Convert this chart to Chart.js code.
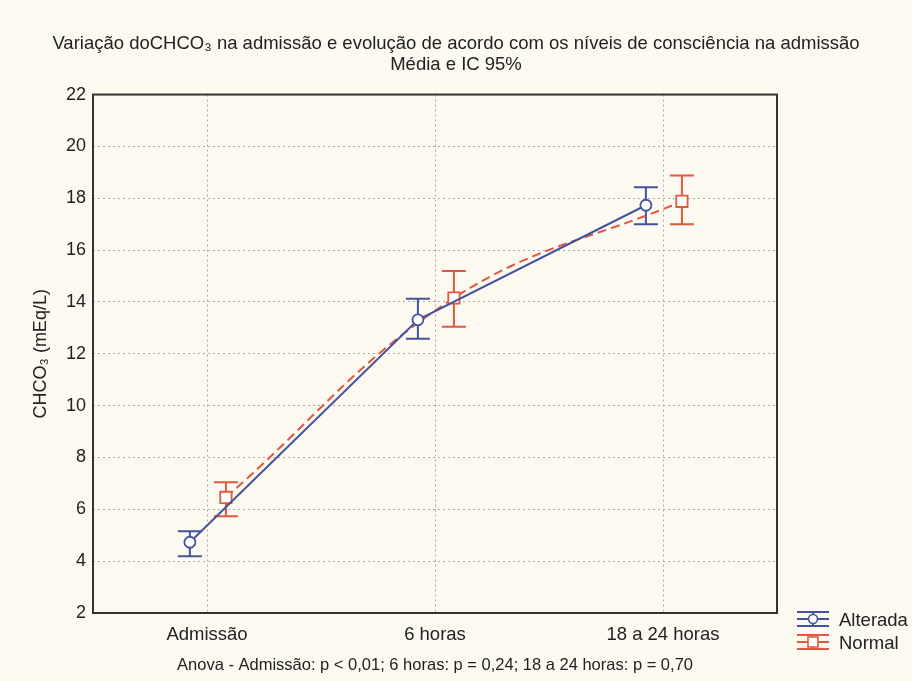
<!DOCTYPE html>
<html>
<head>
<meta charset="utf-8">
<script src="https://cdn.jsdelivr.net/npm/chart.js@4"></script>
<style>
html,body{margin:0;padding:0;background:#fcf9f1;}
#wrap{width:912px;height:681px;position:relative;}
</style>
</head>
<body>
<div id="wrap"><canvas id="c" width="912" height="681"></canvas></div>
<script>
const categories = ['Admissão', '6 horas', '18 a 24 horas'];
const yTicks = [2, 4, 6, 8, 10, 12, 14, 16, 18, 20, 22];
const seriesNames = ['Alterada', 'Normal'];
const alteradaMean = [4.73, 13.31, 17.73];
const alteradaLow = [4.19, 12.58, 17.0];
const alteradaHigh = [5.15, 14.12, 18.42];
const normalMean = [6.46, 14.15, 17.88];
const normalLow = [5.73, 13.04, 17.0];
const normalHigh = [7.04, 15.19, 18.88];
const alteradaShift = -0.075;
const normalShift = 0.083;

const BLUE = '#44549c';
const RED = '#e2573f';
const FONT = "'Liberation Sans', Arial, sans-serif";

function pts(mean, shift) {
  return mean.map((v, i) => ({ x: i + shift, y: v }));
}

const errorBars = {
  id: 'errorBars',
  beforeDatasetsDraw(chart) {
    const ctx = chart.ctx;
    const xs = chart.scales.x, ys = chart.scales.y;
    const sets = [
      { low: normalLow, high: normalHigh, shift: normalShift, color: RED },
      { low: alteradaLow, high: alteradaHigh, shift: alteradaShift, color: BLUE }
    ];
    ctx.save();
    ctx.lineWidth = 2;
    sets.forEach(s => {
      ctx.strokeStyle = s.color;
      s.low.forEach((lo, i) => {
        const x = xs.getPixelForValue(i + s.shift);
        const y1 = ys.getPixelForValue(lo);
        const y2 = ys.getPixelForValue(s.high[i]);
        ctx.beginPath();
        ctx.moveTo(x, y1); ctx.lineTo(x, y2);
        ctx.moveTo(x - 12, y1); ctx.lineTo(x + 12, y1);
        ctx.moveTo(x - 12, y2); ctx.lineTo(x + 12, y2);
        ctx.stroke();
      });
    });
    ctx.restore();
  },
  afterDraw(chart) {
    const ctx = chart.ctx;
    const a = chart.chartArea;
    ctx.save();
    ctx.strokeStyle = '#333';
    ctx.lineWidth = 2;
    ctx.strokeRect(a.left, a.top, a.right - a.left, a.bottom - a.top);
    const rows = [
      { name: seriesNames[0], color: BLUE, cy: 619, style: 'circle' },
      { name: seriesNames[1], color: RED, cy: 642, style: 'square' }
    ];
    rows.forEach(r => {
      const x0 = 797, x1 = 829, xc = 813;
      ctx.strokeStyle = r.color;
      ctx.lineWidth = 2;
      ctx.beginPath();
      ctx.moveTo(x0, r.cy - 7); ctx.lineTo(x1, r.cy - 7);
      ctx.moveTo(x0, r.cy); ctx.lineTo(x1, r.cy);
      ctx.moveTo(x0, r.cy + 7); ctx.lineTo(x1, r.cy + 7);
      ctx.moveTo(xc, r.cy - 7); ctx.lineTo(xc, r.cy + 7);
      ctx.stroke();
      ctx.fillStyle = '#fff';
      ctx.lineWidth = 1.6;
      ctx.beginPath();
      if (r.style === 'circle') ctx.arc(xc, r.cy, 4.5, 0, Math.PI * 2);
      else ctx.rect(xc - 5, r.cy - 5, 10, 10);
      ctx.fill(); ctx.stroke();
      ctx.fillStyle = '#222';
      ctx.font = '18.5px ' + FONT;
      ctx.textBaseline = 'middle';
      ctx.textAlign = 'left';
      ctx.fillText(r.name, 839, r.cy + 2);
    });
    ctx.restore();
  }
};

new Chart(document.getElementById('c'), {
  type: 'line',
  data: {
    datasets: [
      {
        label: seriesNames[0],
        data: pts(alteradaMean, alteradaShift),
        borderColor: BLUE,
        borderWidth: 2,
        tension: 0,
        pointStyle: 'circle',
        pointRadius: 5.5,
        pointBorderWidth: 1.8,
        pointBackgroundColor: '#fff',
        pointBorderColor: BLUE
      },
      {
        label: seriesNames[1],
        data: pts(normalMean, normalShift),
        borderColor: RED,
        borderWidth: 2,
        borderDash: [9, 5],
        tension: 0.4,
        pointStyle: 'rect',
        pointRadius: 8,
        pointBorderWidth: 1.8,
        pointBackgroundColor: '#fff',
        pointBorderColor: RED
      }
    ]
  },
  options: {
    responsive: false,
    animation: false,
    layout: { padding: 0 },
    plugins: {
      legend: { display: false },
      tooltip: { enabled: false },
      title: {
        display: true,
        text: ['Variação doCHCO₃ na admissão e evolução de acordo com os níveis de consciência na admissão', 'Média e IC 95%'],
        color: '#222',
        font: { family: FONT, size: 18.5, weight: 'normal', lineHeight: 1.15 },
        padding: { top: 33, bottom: 19 }
      }
    },
    scales: {
      x: {
        type: 'linear',
        min: -0.5,
        max: 2.5,
        afterBuildTicks(axis) { axis.ticks = categories.map((c, i) => ({ value: i })); },
        afterFit(axis) { axis.height = 68; },
        ticks: {
          callback: (v) => categories[v] ?? '',
          color: '#222',
          font: { family: FONT, size: 18.5 },
          padding: 11,
          maxRotation: 0,
          autoSkip: false
        },
        grid: { color: '#aaa', lineWidth: 1, drawTicks: false },
        border: { display: false, dash: [2, 3] },
        title: {
          display: true,
          text: 'Anova - Admissão: p < 0,01; 6 horas: p = 0,24; 18 a 24 horas: p = 0,70',
          color: '#222',
          font: { family: FONT, size: 16.5 },
          padding: { top: 2, bottom: 6 }
        }
      },
      y: {
        min: 2,
        max: 22,
        afterBuildTicks(axis) { axis.ticks = yTicks.map(v => ({ value: v })); },
        afterFit(axis) { axis.width = 93; },
        ticks: {
          color: '#222',
          font: { family: FONT, size: 18 },
          padding: 7
        },
        grid: {
          color: (c) => (c.tick && (c.tick.value === 2 || c.tick.value === 22)) ? 'rgba(0,0,0,0)' : '#aaa',
          lineWidth: 1,
          drawTicks: false
        },
        border: { display: false, dash: [2, 3] },
        title: {
          display: true,
          text: 'CHCO₃ (mEq/L)',
          color: '#222',
          font: { family: FONT, size: 18 },
          padding: { top: 30, bottom: 0 }
        }
      },
      yRight: {
        position: 'right',
        min: 0,
        max: 1,
        afterFit(axis) { axis.width = 135; },
        ticks: { display: false },
        grid: { display: false, drawTicks: false },
        border: { display: false }
      }
    }
  },
  plugins: [errorBars]
});
</script>
</body>
</html>
